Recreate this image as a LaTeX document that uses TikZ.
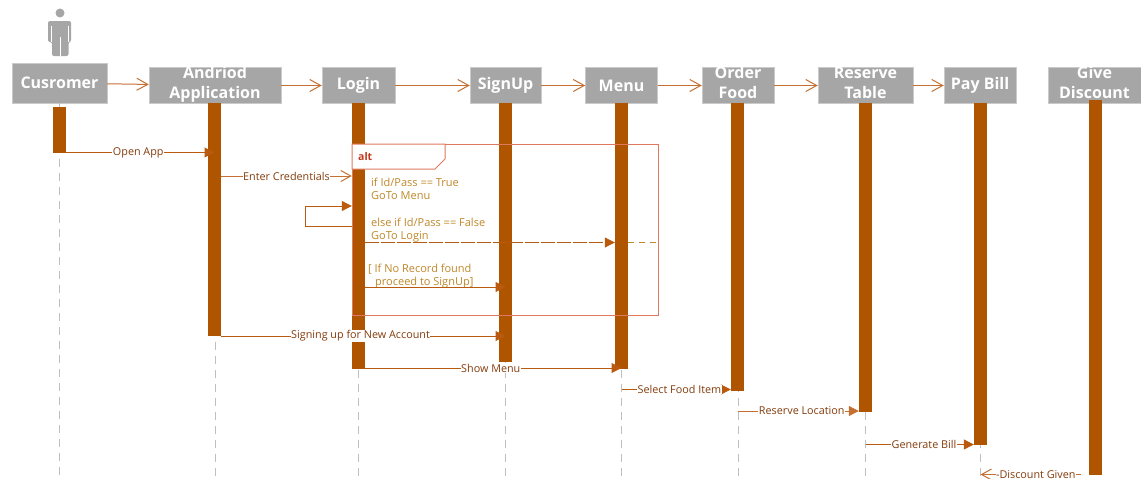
\documentclass[tikz,border=0pt]{standalone}
\usepackage{fontspec}
\setmainfont{Open Sans}
\usepackage{xcolor}
\usepackage{tikz}
\usetikzlibrary{arrows.meta}
\usetikzlibrary{positioning}
\definecolor{barbrown}{RGB}{175,85,0}
\definecolor{boxgray}{RGB}{166,166,166}
\definecolor{wire}{RGB}{197,112,50}
\definecolor{wiredark}{RGB}{185,90,15}
\definecolor{msgtext}{RGB}{132,60,12}
\definecolor{alttext}{RGB}{190,135,40}
\definecolor{framered}{RGB}{222,120,95}
\definecolor{altred}{RGB}{192,57,30}
\newcommand{\headlines}[2]{\raisebox{-7pt}{\smash{\begin{tabular}{@{}c@{}}#1\\#2\end{tabular}}}}
\tikzset{
	headbox/.style={fill=boxgray,draw=boxgray!60!white,line width=0.5pt,inner sep=0pt,minimum height=36pt,text=white,font=\fontsize{16}{20}\selectfont\bfseries},
	lifeline/.style={gray!50,line width=1pt,dash pattern=on 8pt off 6pt},
	activation/.style={fill=barbrown,inner sep=0pt,minimum width=13pt},
	flow/.style={wire,line width=1pt,-{Straight Barb[length=11pt,width=12pt]}},
	msg/.style={wiredark,line width=1pt,-{Stealth[length=10pt,width=10pt,inset=0pt]}},
	msgopen/.style={wire,line width=1pt,-{Straight Barb[length=10pt,width=11pt]}},
	msglabel/.style={fill=white,inner sep=0.5pt,text=msgtext,font=\fontsize{10.8}{12}\selectfont},
	altlabel/.style={anchor=north west,inner sep=0pt,align=left,text=alttext,font=\fontsize{11}{13.7}\selectfont},
}

\begin{document}
\begin{tikzpicture}[x=1pt,y=-1pt,>=stealth]
	\useasboundingbox (0,0) rectangle (1141,479);
	
	\fill[boxgray] (60,13) circle (4.5);
	\fill[boxgray,rounded corners=2pt] (48,42) -- (48,21) -- (71,21) -- (71,42) -- (68.5,42) -- (68.5,56) -- (52,56) -- (52,42) -- cycle;
	\draw[white,line width=1pt] (51.5,26) to (51.5,42);
	\draw[white,line width=1pt] (68,26) to (68,42);
	\draw[white,line width=1pt] (60,37) to (60,56);
	
	\node[headbox,minimum width=95pt,minimum height=40pt] (cust) at (59.5,83) {Cusromer};
	\node[headbox,minimum width=132pt] (app) at (215,85.5) {\headlines{Andriod}{Application}};
	\node[headbox,minimum width=73pt] (login) at (358.5,85.5) {Login};
	\node[headbox,minimum width=71pt] (signup) at (505.5,85.5) {SignUp};
	\node[headbox,minimum width=72pt] (menu) at (621.5,85.5) {Menu};
	\node[headbox,minimum width=72pt] (order) at (738,85.5) {\headlines{Order}{Food}};
	\node[headbox,minimum width=95pt] (reserve) at (865.5,85.5) {\headlines{Reserve}{Table}};
	\node[headbox,minimum width=72pt] (pay) at (980,85.5) {Pay Bill};
	\node[headbox,minimum width=93pt] (give) at (1094.5,85.5) {\headlines{Give}{Discount}};
	
	\draw[flow] (cust) to (app);
	\draw[flow] (app) to (login);
	\draw[flow] (login) to (signup);
	\draw[flow] (signup) to (menu);
	\draw[flow] (menu) to (order);
	\draw[flow] (order) to (reserve);
	\draw[flow] (reserve) to (pay);
	
	\coordinate (bottom) at (0,476);
	\draw[lifeline] (cust.south) to (cust.south |- bottom);
	\draw[lifeline] (app.south) to (app.south |- bottom);
	\draw[lifeline] (login.south) to (login.south |- bottom);
	\draw[lifeline] (signup.south) to (signup.south |- bottom);
	\draw[lifeline] (menu.south) to (menu.south |- bottom);
	\draw[lifeline] (order.south) to (order.south |- bottom);
	\draw[lifeline] (reserve.south) to (reserve.south |- bottom);
	\draw[lifeline] (pay.south) to (pay.south |- bottom);
	
	\node[activation,minimum height=46pt] (barcust) at (59.5,130) {};
	\node[activation,minimum height=233pt] (barapp) at (214.5,219.5) {};
	\node[activation,minimum height=266pt] (barlogin) at (358.5,236) {};
	\node[activation,minimum height=259pt] (barsignup) at (505.5,232.5) {};
	\node[activation,minimum height=266pt] (barmenu) at (621.5,236) {};
	\node[activation,minimum height=288pt] (barorder) at (737.5,247) {};
	\node[activation,minimum height=309pt] (barreserve) at (865.5,257.5) {};
	\node[activation,minimum height=342pt] (barpay) at (980.5,274) {};
	\node[activation,minimum height=375pt] (bargive) at (1095.5,287.5) {};
	
	\draw[framered,line width=1pt] (352,144) rectangle (658.5,315);
	\draw[framered,line width=1pt,fill=white] (352,144) -- (445,144) -- (445,159) -- (435,169) -- (352,169) -- cycle;
	\node[anchor=west,inner sep=0pt,text=altred,font=\fontsize{10.5}{12}\selectfont\bfseries] (alttag) at (358,156.5) {alt};
	
	\node[altlabel] (altone) at (371,177.5) {if Id/Pass == True\\GoTo Menu};
	\node[altlabel] (alttwo) at (371,217.5) {else if Id/Pass == False\\GoTo Login};
	\node[altlabel] (altthree) at (368,263.5) {[ If No Record found\\\hspace*{7pt}proceed to SignUp]};
	
	\coordinate (yopen) at (0,152.5);
	\coordinate (ycred) at (0,176);
	\coordinate (yloopa) at (0,206);
	\coordinate (yloopb) at (0,226);
	\coordinate (ygoto) at (0,242.5);
	\coordinate (yrecord) at (0,287);
	\coordinate (ysign) at (0,336);
	\coordinate (yshow) at (0,368);
	\coordinate (yselect) at (0,389.5);
	\coordinate (yreserve) at (0,411);
	\coordinate (ybill) at (0,444.5);
	\coordinate (ygive) at (0,474.5);
	\coordinate (loopa) at (305.5,206);
	\coordinate (loopb) at (305.5,226);
	\coordinate (givestart) at (1081,474.5);
	
	\draw[msg] (barcust.east |- yopen) to node[msglabel,pos=0.486] {Open App} (barapp.center |- yopen);
	\draw[msgopen] (barapp.east |- ycred) to node[msglabel,pos=0.5] {Enter Credentials} (barlogin.west |- ycred);
	\draw[msg] (barlogin.west |- yloopb) -- (loopb) -- (loopa) -- (barlogin.west |- yloopa);
	\draw[msg,dash pattern=on 14pt off 2pt] (barlogin.east |- ygoto) to (barmenu.west |- ygoto);
	\draw[alttext,line width=1pt,dash pattern=on 6pt off 5pt] (barmenu.east |- ygoto) to (658.5,242.5);
	\draw[msg] (barlogin.east |- yrecord) to (barsignup.center |- yrecord);
	\draw[msg] (barapp.east |- ysign) to node[msglabel,pos=0.49] {Signing up for New Account} (barsignup.center |- ysign);
	\draw[msg] (barlogin.east |- yshow) to node[msglabel,pos=0.49] {Show Menu} (barmenu.center |- yshow);
	\draw[msg] (barmenu.center |- yselect) to node[msglabel,pos=0.53] {Select Food Item} (barorder.west |- yselect);
	\draw[msgopen,-{Stealth[length=10pt,width=10pt,inset=0pt]}] (barorder.center |- yreserve) to node[msglabel,pos=0.53] {Reserve  Location} (barreserve.west |- yreserve);
	\draw[msg] (barreserve.center |- ybill) to node[msglabel,pos=0.54] {Generate Bill} (barpay.west |- ybill);
	\draw[msgopen] (givestart) to node[msglabel,pos=0.45] {-Discount Given} (barpay.center |- ygive);
\end{tikzpicture}
\end{document}
